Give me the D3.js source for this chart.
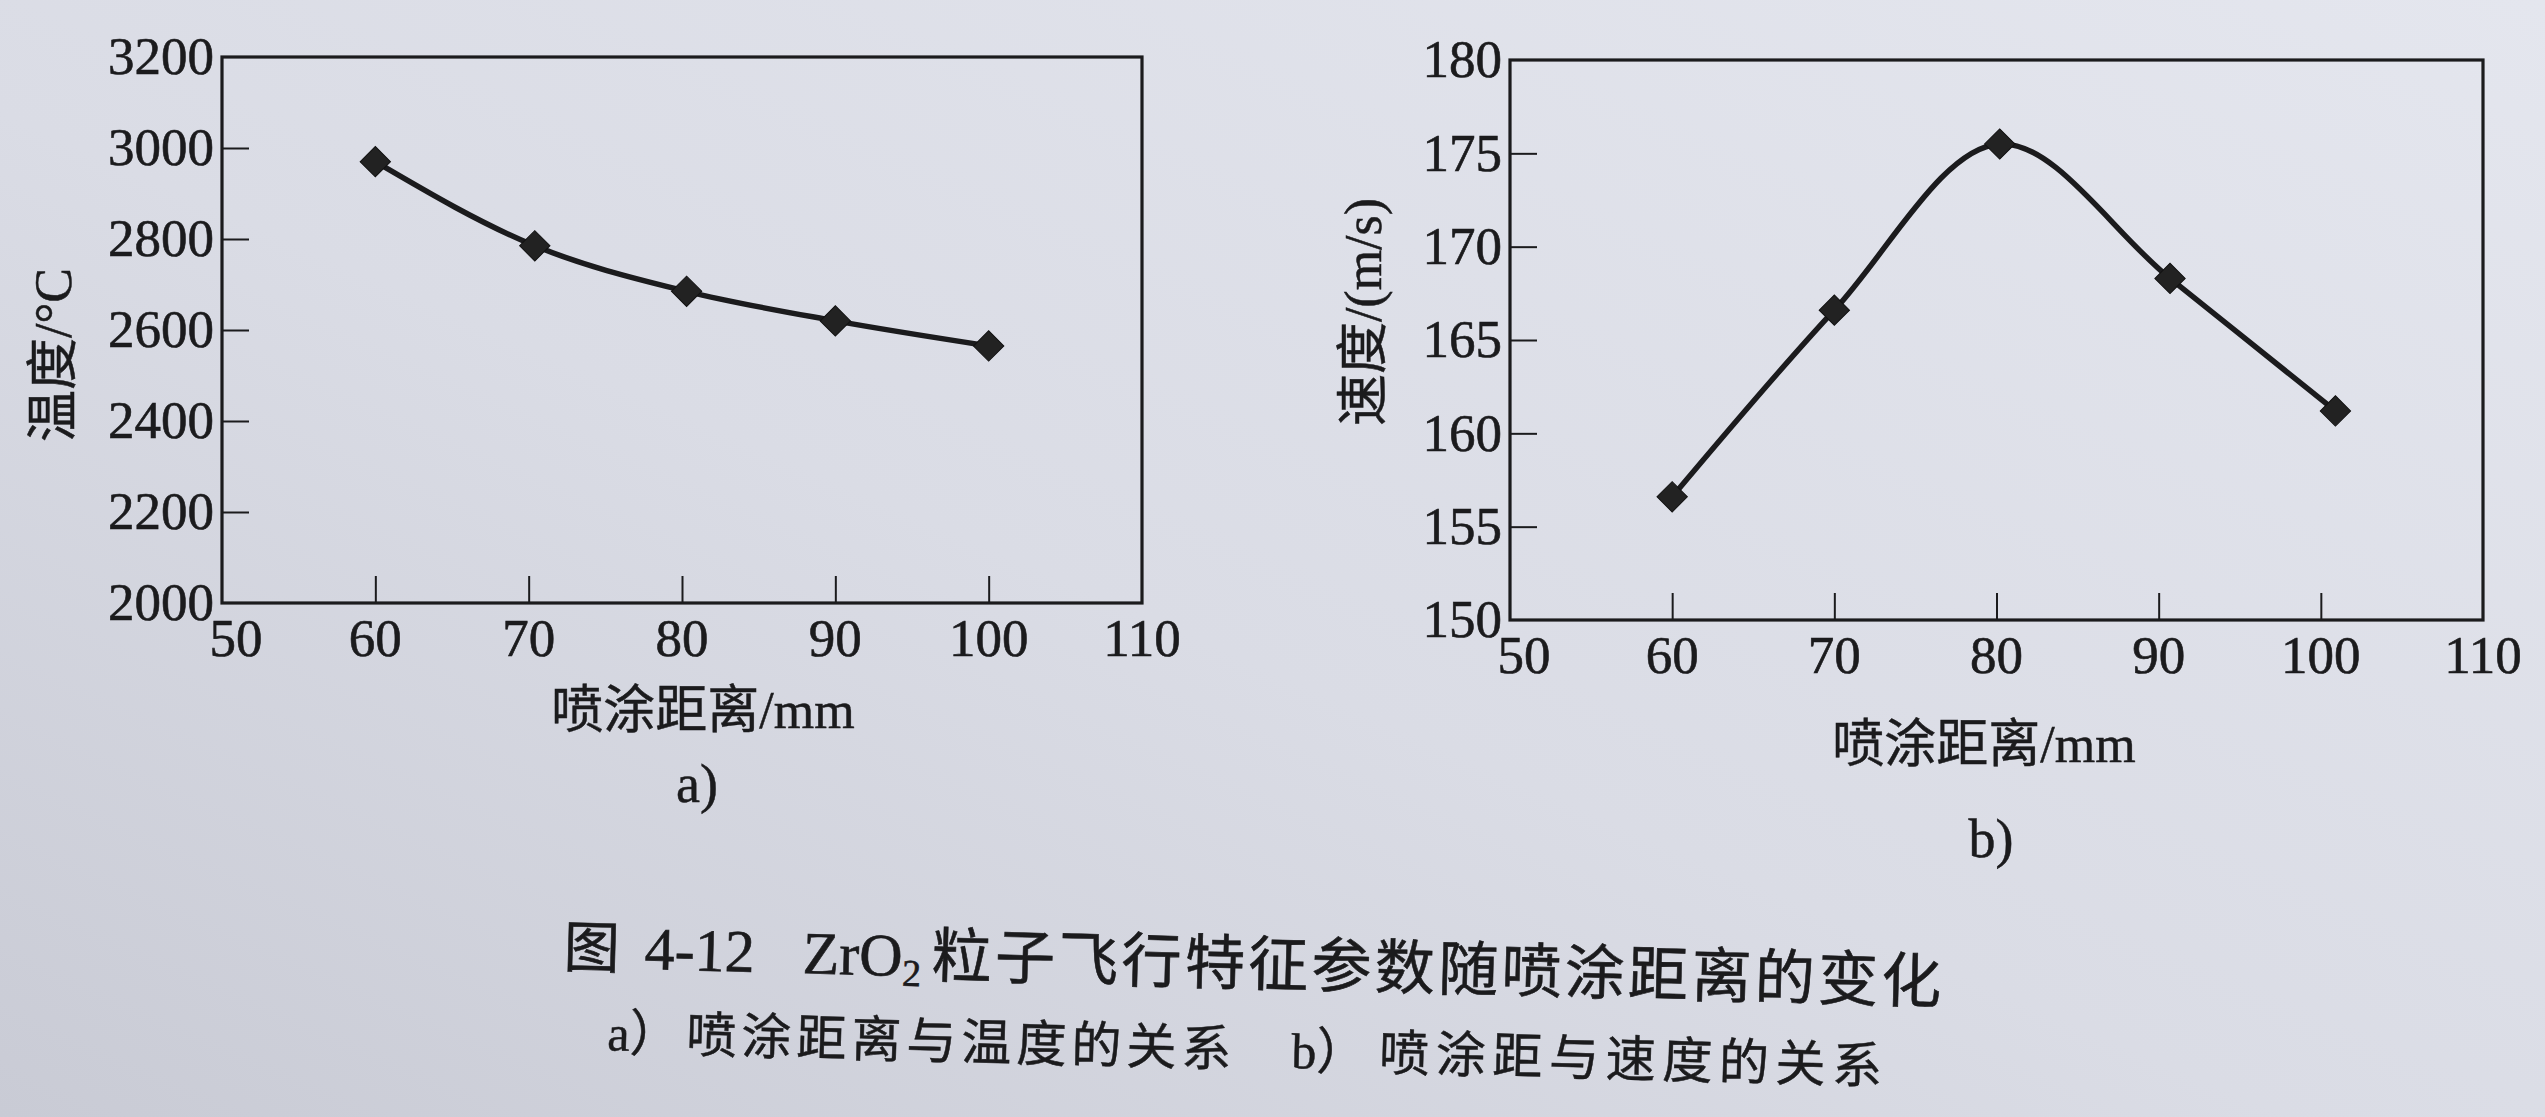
<!DOCTYPE html>
<html><head><meta charset="utf-8">
<script src="https://cdn.jsdelivr.net/npm/d3@7"></script>
<style>
html,body{margin:0;padding:0;background:#dcdee6;}
svg{display:block;}
</style></head>
<body>
<svg id="c" width="2545" height="1117"></svg>
<script>
// ---- data ----
const distTemp = [60, 70.4, 80.3, 90, 100];
const tempValues = [2970, 2785, 2685, 2620, 2565];
const distVel = [60, 70, 80.2, 90.7, 100.9];
const velValues = [156.6, 166.6, 175.5, 168.3, 161.2];
const xTicks = [50, 60, 70, 80, 90, 100, 110];
const tempTicks = [2000, 2200, 2400, 2600, 2800, 3000, 3200];
const velTicks = [150, 155, 160, 165, 170, 175, 180];
const xTitle = "喷涂距离/mm";
const tempTitle = "温度/°C";
const velTitle = "速度/(m/s)";
const panelLabels = ["a)", "b)"];
const captionMain = "粒子飞行特征参数随喷涂距离的变化";
const captionA = "喷涂距离与温度的关系";
const captionB = "喷涂距与速度的关系";

const svg = d3.select("#c");
const ink = "#1b1b1d";
const serif = "'Liberation Serif','Noto Sans CJK SC',serif";

// background
const defs = svg.append("defs");
const lg = defs.append("linearGradient").attr("id","bg").attr("x1","0").attr("y1","1").attr("x2","1").attr("y2","0");
lg.append("stop").attr("offset","0").attr("stop-color","#c9cbd5");
lg.append("stop").attr("offset","0.45").attr("stop-color","#dadce5");
lg.append("stop").attr("offset","1").attr("stop-color","#e4e6ee");
svg.append("rect").attr("width",2545).attr("height",1117).attr("fill","url(#bg)");

function panel(cfg){
  const g = svg.append("g");
  const x = d3.scaleLinear().domain([50,110]).range([cfg.left, cfg.right]);
  const y = d3.scaleLinear().domain(cfg.yDomain).range([cfg.bottom, cfg.top]);

  // frame
  g.append("rect").attr("x",cfg.left).attr("y",cfg.top)
    .attr("width",cfg.right-cfg.left).attr("height",cfg.bottom-cfg.top)
    .attr("fill","none").attr("stroke",ink).attr("stroke-width",3.2);

  const xa = g.append("g").attr("transform",`translate(0,${cfg.bottom})`)
    .call(d3.axisBottom(x).tickValues(xTicks.slice(1,-1)).tickSize(-27).tickPadding(16).tickFormat(d3.format("d")));
  xa.select(".domain").remove();
  xa.selectAll("line").attr("stroke",ink).attr("stroke-width",2);
  xa.selectAll("text").remove();
  // x tick labels (all, including ends)
  g.append("g").selectAll("text").data(xTicks).join("text")
    .attr("x",d=>x(d) + (d===50?14:0)).attr("y",cfg.bottom+15).attr("dy","0.71em")
    .attr("text-anchor","middle").attr("font-family",serif).attr("font-size",53)
    .attr("fill",ink).attr("stroke",ink).attr("stroke-width",0.6).text(d=>d);

  const ya = g.append("g").attr("transform",`translate(${cfg.left},0)`)
    .call(d3.axisLeft(y).tickValues(cfg.yTicks).tickSize(-27).tickPadding(8).tickFormat(d3.format("d")));
  ya.select(".domain").remove();
  ya.selectAll("line").attr("stroke",ink).attr("stroke-width",2)
    .attr("display",(d,i)=> (i===0||i===cfg.yTicks.length-1)?"none":null);
  ya.selectAll("text").attr("font-family",serif).attr("font-size",53).attr("fill",ink)
    .attr("stroke",ink).attr("stroke-width",0.6);

  // curve
  const pts = cfg.xs.map((d,i)=>[d,cfg.ys[i]]);
  g.append("path").datum(pts)
    .attr("d", d3.line().x(d=>x(d[0])).y(d=>y(d[1])).curve(cfg.curve))
    .attr("fill","none").attr("stroke",ink).attr("stroke-width",5.5);
  g.append("g").selectAll("path").data(pts).join("path")
    .attr("d", d3.symbol().type(d3.symbolSquare).size(460))
    .attr("transform",d=>`translate(${x(d[0])},${y(d[1])}) rotate(45)`)
    .attr("fill","#222").attr("stroke","#111").attr("stroke-width",1);

  // titles
  g.append("text").attr("x",cfg.xTitleX).attr("y",cfg.xTitleY)
    .attr("text-anchor","middle").attr("font-family",serif).attr("font-size",52)
    .attr("fill",ink).attr("stroke",ink).attr("stroke-width",0.5).text(xTitle);
  g.append("text").attr("transform",`translate(${cfg.yTitleX},${cfg.yTitleY}) rotate(-90)`)
    .attr("text-anchor","middle").attr("dy","0.35em").attr("font-family",serif).attr("font-size",52)
    .attr("fill",ink).attr("stroke",ink).attr("stroke-width",0.5).text(cfg.yTitle);
  g.append("text").attr("x",cfg.labX).attr("y",cfg.labY)
    .attr("text-anchor","middle").attr("font-family",serif).attr("font-size",54)
    .attr("fill",ink).attr("stroke",ink).attr("stroke-width",0.5).text(cfg.label);
}

panel({left:222,right:1142,top:57,bottom:603,yDomain:[2000,3200],yTicks:tempTicks,
  xs:distTemp,ys:tempValues,curve:d3.curveMonotoneX,
  xTitleX:703,xTitleY:728,yTitleX:53,yTitleY:355,yTitle:tempTitle,label:panelLabels[0],labX:697,labY:802});
panel({left:1510,right:2483,top:60,bottom:620,yDomain:[150,180],yTicks:velTicks,
  xs:distVel,ys:velValues,curve:d3.curveCatmullRom.alpha(0.5),
  xTitleX:1984,xTitleY:762,yTitleX:1363,yTitleY:312,yTitle:velTitle,label:panelLabels[1],labX:1991,labY:857});

// caption
const cap = svg.append("g").attr("transform","rotate(1.5,1250,1025)");
const t1 = cap.append("text").attr("y",985).attr("font-family",serif).attr("font-size",60)
  .attr("fill",ink).attr("stroke",ink).attr("stroke-width",0.6);
t1.append("tspan").attr("x",562).attr("font-family","'Noto Sans CJK SC'").attr("font-size",56).text("图");
t1.append("tspan").attr("x",643).text("4-12");
t1.append("tspan").attr("x",801).text("ZrO");
t1.append("tspan").attr("font-size",38).attr("dy",10).text("2");
cap.append("text").attr("x",930).attr("y",985).attr("font-family","'Noto Sans CJK SC'")
  .attr("font-size",60).attr("fill",ink).attr("stroke",ink).attr("stroke-width",0.6)
  .attr("textLength",1010).attr("lengthAdjust","spacing").text(captionMain);

const t2 = cap.append("g").attr("font-family",serif).attr("font-size",50).attr("fill",ink)
  .attr("stroke",ink).attr("stroke-width",0.5);
t2.append("text").attr("x",608).attr("y",1067).text("a）");
t2.append("text").attr("x",687).attr("y",1067).attr("font-family","'Noto Sans CJK SC'").attr("font-size",50)
  .attr("textLength",545).attr("lengthAdjust","spacing").text(captionA);
t2.append("text").attr("x",1292).attr("y",1067).text("b）");
t2.append("text").attr("x",1380).attr("y",1067).attr("font-family","'Noto Sans CJK SC'").attr("font-size",50)
  .attr("textLength",503).attr("lengthAdjust","spacing").text(captionB);
</script>
</body></html>
